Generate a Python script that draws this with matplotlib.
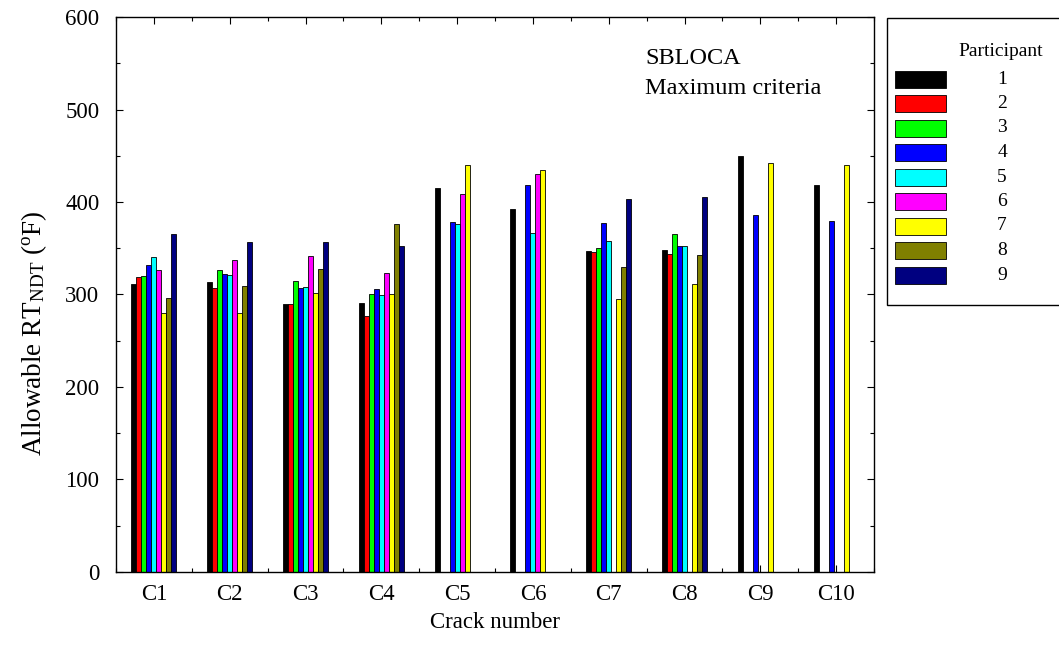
import numpy as np
import matplotlib
matplotlib.use("Agg")
import matplotlib.pyplot as plt
from matplotlib.patches import Rectangle
from matplotlib.ticker import MultipleLocator

plt.rcParams['font.family'] = ['Liberation Serif', 'DejaVu Serif']
plt.rcParams['mathtext.fontset'] = 'custom'
plt.rcParams['mathtext.rm'] = 'Liberation Serif'
plt.rcParams['mathtext.it'] = 'Liberation Serif:italic'

cracks = ["C1", "C2", "C3", "C4", "C5", "C6", "C7", "C8", "C9", "C10"]
participants = ["1", "2", "3", "4", "5", "6", "7", "8", "9"]
colors = ["#000000", "#FF0000", "#00FF00", "#0000FF", "#00FFFF",
          "#FF00FF", "#FFFF00", "#808000", "#000080"]
nan = np.nan
# values per crack, one entry per participant (nan = no result)
c1 = [311, 319, 320, 332, 341, 326, 280, 296, 365]
c2 = [313, 307, 327, 322, 321, 337, 280, 309, 357]
c3 = [290, 290, 315, 307, 308, 342, 302, 328, 357]
c4 = [291, 277, 300, 306, 299, 323, 301, 376, 352]
c5 = [415, nan, nan, 378, 376, 409, 440, nan, nan]
c6 = [392, nan, nan, 419, 367, 430, 435, nan, nan]
c7 = [347, 346, 350, 377, 358, nan, 295, 330, 403]
c8 = [348, 344, 365, 352, 352, nan, 311, 343, 405]
c9 = [450, nan, nan, 386, nan, nan, 442, nan, nan]
c10 = [419, nan, nan, 380, nan, nan, 440, nan, nan]

data = np.array([c1, c2, c3, c4, c5, c6, c7, c8, c9, c10], dtype=float)

W, H = 1059, 652
fig = plt.figure(figsize=(W / 100, H / 100), dpi=100)
ax = fig.add_axes([116 / W, (H - 571.7) / H, (874 - 116) / W, (571.7 - 17.3) / H])

x = np.arange(1, len(cracks) + 1)
bw = 0.066
for j in range(len(participants)):
    vals = data[:, j]
    mask = ~np.isnan(vals)
    ax.bar(x[mask] + (j - 4) * bw, vals[mask], width=bw, color=colors[j],
           edgecolor='black', linewidth=0.6, zorder=2)

ax.set_xlim(0.5, 10.5)
ax.set_ylim(0, 600)
ax.set_xticks(x)
ax.set_xticklabels(cracks)
ax.xaxis.set_minor_locator(MultipleLocator(0.5))
ax.yaxis.set_major_locator(MultipleLocator(100))
ax.yaxis.set_minor_locator(MultipleLocator(50))
ax.tick_params(axis='both', which='major', direction='in', length=5, width=0.8,
               top=True, right=True, labelsize=16.5)
ax.tick_params(axis='x', which='major', pad=9)
ax.tick_params(axis='y', which='major', pad=12)
ax.tick_params(axis='both', which='minor', direction='in', length=3, width=0.8,
               top=True, right=True)
for s in ax.spines.values():
    s.set_linewidth(1.0)

ax.set_xlabel("Crack number", fontsize=16.5)
ax.xaxis.set_label_coords(0.5, -0.072)
ax.set_ylabel("Allowable RT$_{\\mathrm{NDT}}$ ($^{\\mathrm{o}}$F)", fontsize=19.5)
ax.yaxis.set_label_coords(-0.088, 0.43)

fig.text(645 / W, (H - 64) / H, "SBLOCA", fontsize=17.5, ha='left', va='baseline')
fig.text(645 / W, (H - 94) / H, "Maximum criteria", fontsize=17.5, ha='left', va='baseline')

# legend box
fig.patches.append(Rectangle((887 / W, (H - 305) / H), (1070 - 887) / W, (305 - 18) / H,
                             transform=fig.transFigure, facecolor='white',
                             edgecolor='black', linewidth=1.0, clip_on=False))
fig.text(1001 / W, (H - 52) / H, "Participant", fontsize=14, ha='center', va='center')
y0 = 79
dy = 24.5
for j, lab in enumerate(participants):
    yc = y0 + j * dy
    fig.patches.append(Rectangle((895 / W, (H - yc - 8.5) / H), 51 / W, 17 / H,
                                 transform=fig.transFigure, facecolor=colors[j],
                                 edgecolor='black', linewidth=0.6))
    fig.text(1002 / W, (H - yc) / H, lab, fontsize=14, ha='center', va='center')

fig.savefig("out.png", dpi=100)
